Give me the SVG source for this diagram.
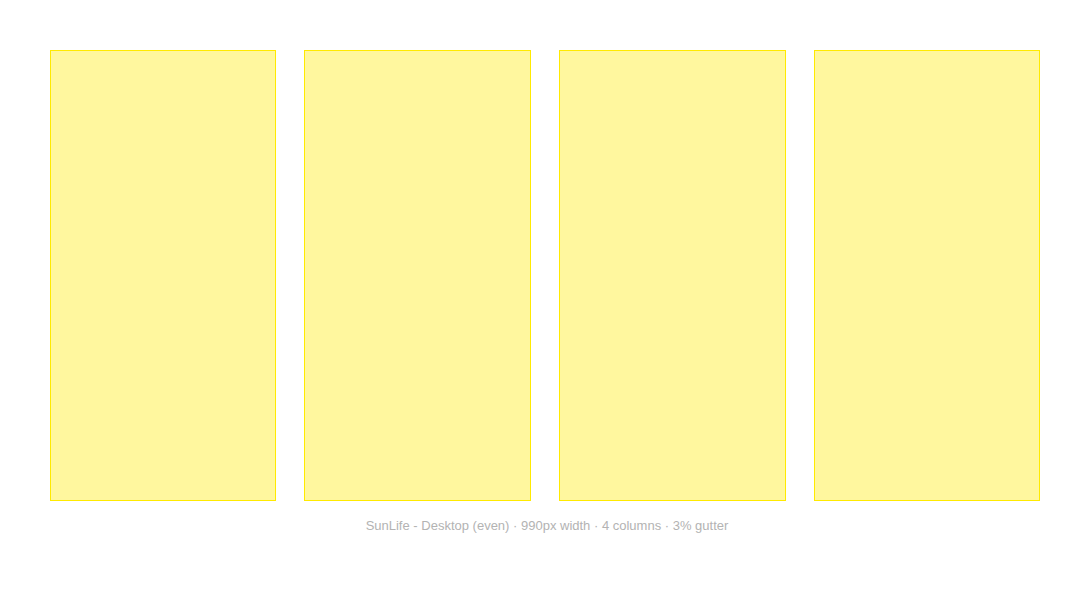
<svg xmlns="http://www.w3.org/2000/svg" width="1090" height="600" viewBox="0 0 1090 600">
<style>
.col{fill:#fff79e;stroke:#ffea00;stroke-width:1}
.cap{font-family:"Liberation Sans",Arial,sans-serif;font-size:13px;fill:#b3b3b3;text-anchor:middle}
</style>
<rect width="1090" height="600" fill="#ffffff"/>
<g id="col1"><rect class="col" x="50.5" y="50.5" width="225" height="450"/></g>
<g id="col2"><rect class="col" x="304.5" y="50.5" width="226" height="450"/></g>
<g id="col3"><rect class="col" x="559.5" y="50.5" width="226" height="450"/></g>
<g id="col4"><rect class="col" x="814.5" y="50.5" width="225" height="450"/></g>
<g id="connectors"></g>
<text class="cap" x="547" y="530">SunLife - Desktop (even) · 990px width · 4 columns · 3% gutter</text>
</svg>
